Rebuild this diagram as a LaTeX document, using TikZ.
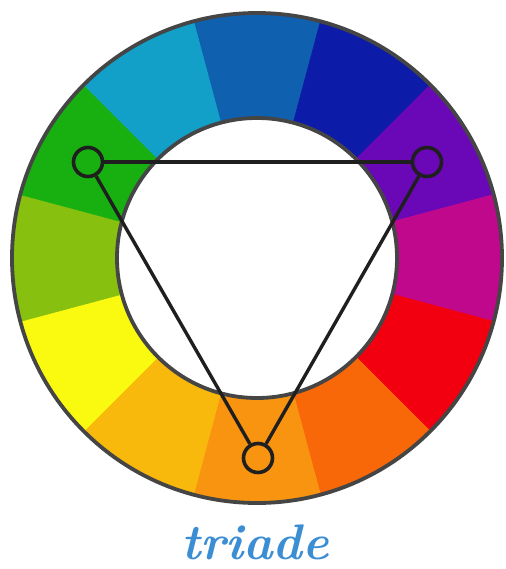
\documentclass[tikz,border=0pt]{standalone}
\usepackage{fontspec}
\definecolor{cBlue}{HTML}{1060B0}
\definecolor{cDBlue}{HTML}{0C1CA8}
\definecolor{cPurple}{HTML}{6A08B8}
\definecolor{cMagenta}{HTML}{C0088C}
\definecolor{cRed}{HTML}{F20010}
\definecolor{cOrRed}{HTML}{F86808}
\definecolor{cOrange}{HTML}{F89410}
\definecolor{cYOrange}{HTML}{F8B80C}
\definecolor{cYellow}{HTML}{FAFA10}
\definecolor{cYGreen}{HTML}{88C010}
\definecolor{cGreen}{HTML}{18B010}
\definecolor{cCyan}{HTML}{12A0C8}
\definecolor{rim}{HTML}{454545}
\definecolor{txtblue}{HTML}{3C8ED4}
\begin{document}
\begin{tikzpicture}[x=1pt,y=1pt,
  dot/.style={circle, draw=black!88, line width=3.6pt, minimum size=29pt, inner sep=0pt},
  tri/.style={draw=black!88, line width=3.4pt},
  rimline/.style={draw=rim, line width=3.8pt}]
\useasboundingbox (0,0) rectangle (505,-569);
\coordinate (c) at (257,-258);
\foreach \m/\col in {90/cBlue,60/cDBlue,30/cPurple,0/cMagenta,-30/cRed,-60/cOrRed,-90/cOrange,-120/cYOrange,-150/cYellow,180/cYGreen,150/cGreen,120/cCyan}{
  \fill[\col, draw=\col, line width=0.6pt, shift={(257,-258)}]
    (\m-15:245) arc[start angle=\m-15, end angle=\m+15, radius=245]
    -- (\m+15:140) arc[start angle=\m+15, end angle=\m-15, radius=140] -- cycle;
}
\draw[rimline] (c) circle[radius=245];
\draw[rimline] (c) circle[radius=140];
\node[dot] (g) at (88,-162) {};
\node[dot] (p) at (427,-162) {};
\node[dot] (o) at (258,-458) {};
\draw[tri] (g) -- (p);
\draw[tri] (g) -- (o);
\draw[tri] (p) -- (o);
\node[anchor=base, text=txtblue, inner sep=0pt] (lbl) at (255,-559)
  {\fontsize{50}{60}\selectfont\bfseries\itshape triade};
\end{tikzpicture}
\end{document}
